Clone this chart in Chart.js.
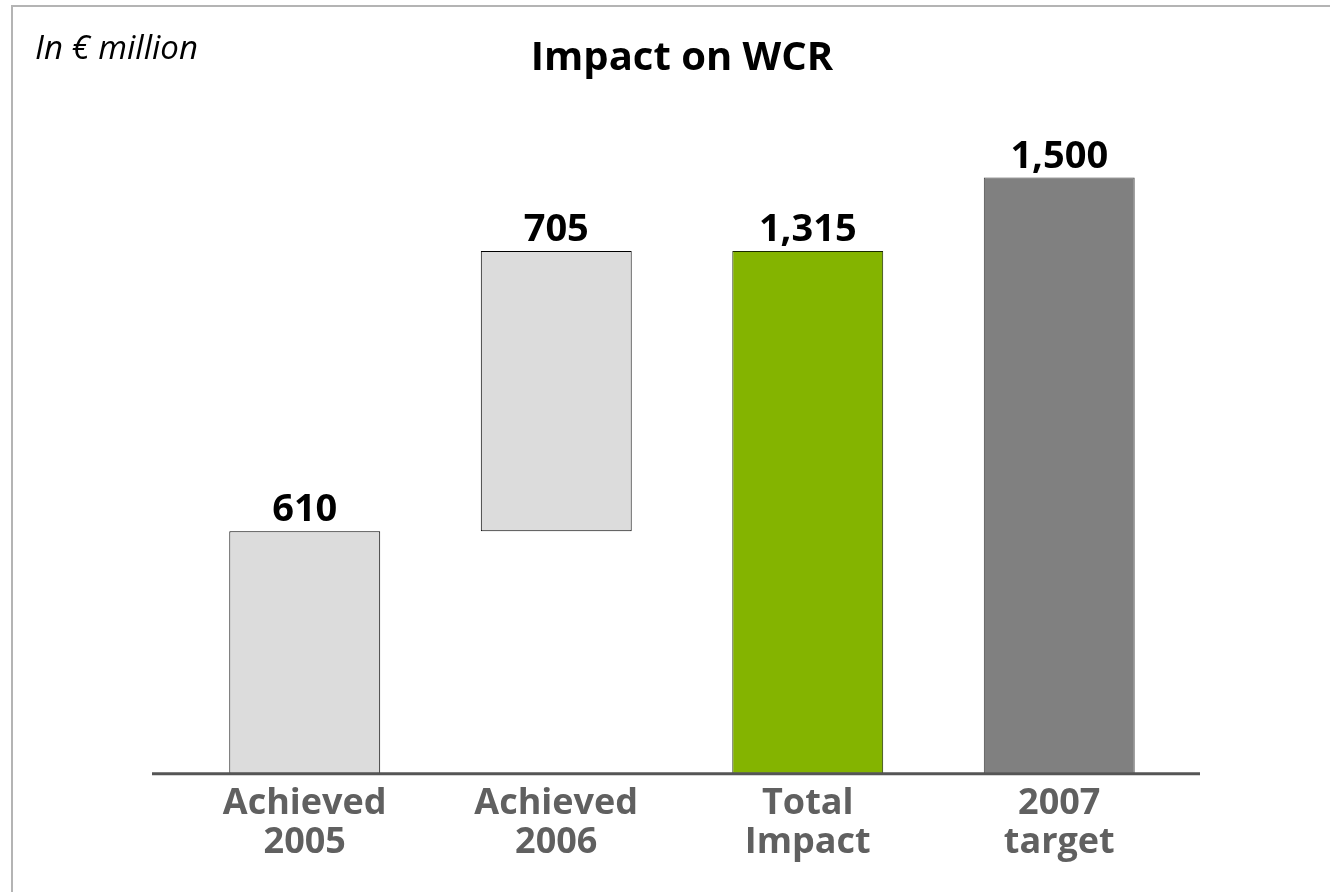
<!DOCTYPE html>
<html>
<head>
<meta charset="utf-8">
<script src="https://cdn.jsdelivr.net/npm/chart.js@4"></script>
<style>
  body { margin: 0; background: #fff; }
  #wrap { position: relative; width: 1330px; height: 892px; }
  #frame { position: absolute; left: 11px; top: 5px; right: 0; bottom: 0; border-top: 2px solid #b4b4b4; border-left: 2px solid #b4b4b4; }
  #unit { position: absolute; left: 35px; top: 24px; font: italic 33px 'Open Sans', sans-serif; color: #000; }
  canvas { position: absolute; left: 0; top: 0; }
</style>
</head>
<body>
<div id="wrap">
  <div id="frame"></div>
  <canvas id="wcr" width="1330" height="892"></canvas>
  <div id="unit">In € million</div>
</div>
<script>
const categorias = [['Achieved', '2005'], ['Achieved', '2006'], ['Total', 'Impact'], ['2007', 'target']];
const inicio = [0, 610, 0, 0];
const fim = [610, 1315, 1315, 1500];
const valores = ['610', '705', '1,315', '1,500'];
const cores = ['#dcdcdc', '#dcdcdc', '#84b400', '#808080'];
const bordas = ['#000000', '#000000', '#1a2a00', '#404040'];

const wcrCTX = document.getElementById('wcr').getContext('2d');

// rotulos de valor acima das barras + linha do eixo
const rotulosPlugin = {
    id: 'rotulos',
    afterDatasetsDraw(chart) {
        const ctx = chart.ctx;
        const area = chart.chartArea;
        const y0 = chart.scales.y.getPixelForValue(0);
        ctx.save();
        ctx.strokeStyle = '#555555';
        ctx.lineWidth = 3;
        ctx.beginPath();
        ctx.moveTo(area.left - 27, y0);
        ctx.lineTo(area.right + 15, y0);
        ctx.stroke();

        ctx.fillStyle = '#000';
        ctx.font = 'bold 38px "Open Sans"';
        ctx.textAlign = 'center';
        ctx.textBaseline = 'alphabetic';
        chart.getDatasetMeta(0).data.forEach((bar, i) => {
            ctx.fillText(valores[i], bar.x, bar.y - 10);
        });
        ctx.restore();
    }
};

new Chart(wcrCTX, {
    type: 'bar',
    data: {
        labels: categorias,
        datasets: [{
            data: inicio.map((v, i) => [v, fim[i]]),
            backgroundColor: cores,
            borderColor: bordas,
            borderWidth: 1,
            borderSkipped: false,
            barPercentage: 0.6,
            categoryPercentage: 1
        }]
    },
    options: {
        responsive: false,
        animation: false,
        plugins: {
            legend: { display: false },
            tooltip: { enabled: false },
            title: {
                display: true,
                text: 'Impact on WCR',
                color: '#000',
                font: { family: 'Open Sans', size: 40, weight: 'bold' },
                padding: { top: 15, bottom: 15 }
            }
        },
        scales: {
            x: {
                grid: { display: false },
                border: { display: false },
                ticks: {
                    color: '#606060',
                    font: { family: 'Open Sans', size: 36, weight: 'bold', lineHeight: 1.1 },
                    padding: 2,
                    maxRotation: 0
                }
            },
            y: {
                display: false,
                min: 0,
                max: 1700
            }
        },
        layout: {
            padding: { left: 179, right: 145, top: 20, bottom: 27 }
        }
    },
    plugins: [rotulosPlugin]
});
</script>
</body>
</html>
